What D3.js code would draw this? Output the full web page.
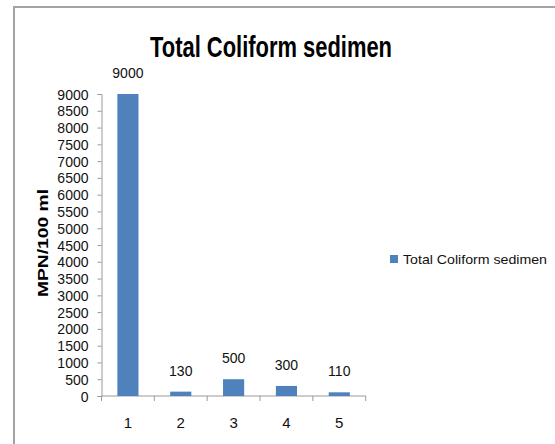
<!DOCTYPE html>
<html>
<head>
<meta charset="utf-8">
<script src="https://cdn.jsdelivr.net/npm/d3@7"></script>
<style>
  body { margin: 0; background: #fff; }
  svg { display: block; font-family: "Liberation Sans", Arial, sans-serif; }
  .axis path, .axis line { stroke: #9a9a9a; }
  .axis text { fill: #111; }
</style>
</head>
<body>
<svg id="chart" width="555" height="444"></svg>
<script>
// data
const categories = ["1", "2", "3", "4", "5"];
const values = [9000, 130, 500, 300, 110];
const yTicks = d3.range(0, 9001, 500);
const seriesName = "Total Coliform sedimen";
const title = "Total Coliform sedimen";
const yTitle = "MPN/100 ml";

const svg = d3.select("#chart");
const barColor = "#4f81bd";

// chart area frame (only top and left edges show in the picture)
svg.append("path")
  .attr("d", "M14,444 L14,7 L555,7")
  .attr("fill", "none")
  .attr("stroke", "#a3a3a3")
  .attr("stroke-width", 2);

const plot = { left: 101.5, right: 365.7, top: 94, bottom: 396 };

const x = d3.scaleBand()
  .domain(categories)
  .range([plot.left, plot.right])
  .padding(0);

const y = d3.scaleLinear()
  .domain([0, 9000])
  .range([plot.bottom, plot.top]);

// y axis
svg.append("g")
  .attr("class", "axis")
  .attr("transform", `translate(${plot.left},0)`)
  .style("font-size", "14px")
  .call(d3.axisLeft(y).tickValues(yTicks).tickSize(4).tickPadding(9).tickFormat(d3.format("d")))
  .call(g => g.selectAll("text").attr("dy", "0.36em"));

// x axis: ticks sit between the categories
const xAxisG = svg.append("g")
  .attr("class", "axis")
  .attr("transform", `translate(0,${plot.bottom})`);
xAxisG.append("line")
  .attr("x1", plot.left).attr("x2", plot.right)
  .attr("stroke", "#9a9a9a");
const bounds = categories.map(c => x(c)).concat([x(categories[categories.length - 1]) + x.bandwidth()]);
xAxisG.selectAll(".tk")
  .data(bounds)
  .join("line")
  .attr("class", "tk")
  .attr("x1", d => d).attr("x2", d => d)
  .attr("y1", 0).attr("y2", 5)
  .attr("stroke", "#9a9a9a");
xAxisG.selectAll(".lbl")
  .data(categories)
  .join("text")
  .attr("class", "lbl")
  .attr("x", d => x(d) + x.bandwidth() / 2)
  .attr("y", 32)
  .attr("text-anchor", "middle")
  .style("font-size", "15px")
  .text(d => d);

// bars
const barW = x.bandwidth() * 0.4;
svg.selectAll(".bar")
  .data(values)
  .join("rect")
  .attr("class", "bar")
  .attr("fill", barColor)
  .attr("x", (d, i) => x(categories[i]) + (x.bandwidth() - barW) / 2)
  .attr("width", barW)
  .attr("y", d => y(d))
  .attr("height", d => y(0) - y(d));

// value labels
svg.selectAll(".val")
  .data(values)
  .join("text")
  .attr("class", "val")
  .attr("x", (d, i) => x(categories[i]) + x.bandwidth() / 2)
  .attr("y", d => y(d) - 16)
  .attr("text-anchor", "middle")
  .style("font-size", "14px")
  .attr("fill", "#111")
  .text(d => d);

// title
svg.append("text")
  .attr("x", 271)
  .attr("y", 57)
  .attr("text-anchor", "middle")
  .attr("textLength", 242)
  .attr("lengthAdjust", "spacingAndGlyphs")
  .style("font-size", "30px")
  .style("font-weight", "bold")
  .attr("fill", "#000")
  .text(title);

// y axis title
svg.append("text")
  .attr("transform", "translate(48,243) rotate(-90)")
  .attr("text-anchor", "middle")
  .attr("textLength", 108)
  .attr("lengthAdjust", "spacingAndGlyphs")
  .style("font-size", "14px")
  .style("font-weight", "bold")
  .attr("fill", "#000")
  .text(yTitle);

// legend
const legend = svg.append("g").attr("transform", "translate(390,255)");
legend.append("rect")
  .attr("width", 8).attr("height", 8)
  .attr("fill", barColor);
legend.append("text")
  .attr("x", 13)
  .attr("y", 9)
  .attr("textLength", 144)
  .attr("lengthAdjust", "spacingAndGlyphs")
  .style("font-size", "13px")
  .attr("fill", "#111")
  .text(seriesName);
</script>
</body>
</html>
